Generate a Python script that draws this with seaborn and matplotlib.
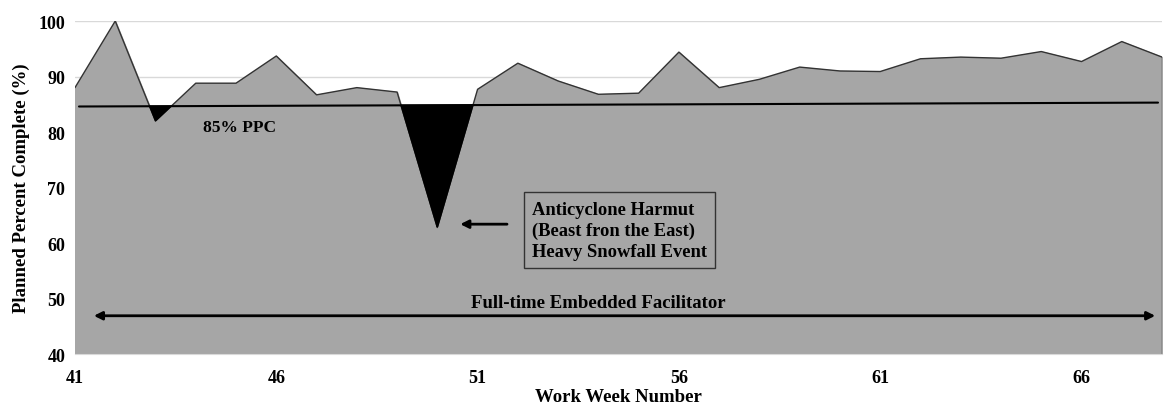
import numpy as np
import pandas as pd
import matplotlib.pyplot as plt
import seaborn as sns

sns.set_style("white")
plt.rcParams["font.family"] = ["Liberation Serif", "DejaVu Serif"]
plt.rcParams["text.color"] = "black"
plt.rcParams["axes.labelcolor"] = "black"
plt.rcParams["xtick.color"] = "black"
plt.rcParams["ytick.color"] = "black"

weeks = list(range(41, 69))
ppc = [88.0, 100.0, 82.0, 88.8, 88.8, 93.7, 86.7, 88.0, 87.2, 62.8,
       87.7, 92.4, 89.2, 86.8, 87.0, 94.4, 88.0, 89.5, 91.7, 91.0,
       90.9, 93.2, 93.5, 93.3, 94.5, 92.7, 96.3, 93.5]
target_weeks = [41.1, 67.9]
target_vals = [84.6, 85.3]

df = pd.DataFrame({"week": weeks, "ppc": ppc})
x = np.linspace(41, 68, 2000)
y = np.interp(x, df["week"], df["ppc"])
line = np.interp(x, target_weeks, target_vals)

fig = plt.figure(figsize=(11.66, 4.10), dpi=100)
ax = fig.add_axes([0.0643, 0.134, 0.9323, 0.8123])

ax.fill_between(df["week"], 40, df["ppc"], color="#a6a6a6", zorder=2)
sns.lineplot(data=df, x="week", y="ppc", color="#333333", linewidth=1.0, ax=ax, zorder=3)
ax.plot([68, 68], [40, ppc[-1]], color="#333333", linewidth=1.0, zorder=3)
ax.fill_between(x, y, line, where=y < line, interpolate=True, color="black", zorder=3)
ax.plot(target_weeks, target_vals, color="black", linewidth=1.5, zorder=4)

ax.set_xlim(41, 68)
ax.set_ylim(40, 100)
ax.set_xticks([41, 46, 51, 56, 61, 66])
ax.set_yticks(range(40, 101, 10))
ax.yaxis.grid(True, color="#d9d9d9", linewidth=1, zorder=0)
ax.set_axisbelow(True)
for s in ["top", "right", "left"]:
    ax.spines[s].set_visible(False)
ax.spines["bottom"].set_color("#d9d9d9")
ax.tick_params(axis="x", length=0, labelsize=13, pad=11)
ax.tick_params(axis="y", length=0, labelsize=13, pad=7)
for lab in ax.get_xticklabels() + ax.get_yticklabels():
    lab.set_fontweight("bold")

ax.set_xlabel("Work Week Number", fontsize=13.5, fontweight="bold", labelpad=1)
ax.set_ylabel("Planned Percent Complete (%)", fontsize=13.5, fontweight="bold", labelpad=6)

ax.text(45.1, 80.9, "85% PPC", fontsize=12.5, fontweight="bold", ha="center", va="center", zorder=5)

ax.annotate("", xy=(41.4, 46.9), xytext=(67.9, 46.9),
            arrowprops=dict(arrowstyle="<|-|>", color="black", lw=2, mutation_scale=12), zorder=5)
ax.text(54.0, 49.2, "Full-time Embedded Facilitator", fontsize=13.5, fontweight="bold",
        ha="center", va="center", zorder=5)

ax.annotate("", xy=(50.5, 63.4), xytext=(51.8, 63.4),
            arrowprops=dict(arrowstyle="-|>", color="black", lw=2, mutation_scale=12), zorder=5)
ax.text(52.35, 62.3, "Anticyclone Harmut\n(Beast fron the East)\nHeavy Snowfall Event",
        fontsize=13.3, fontweight="bold", ha="left", va="center", linespacing=1.3, zorder=5,
        bbox=dict(boxstyle="square,pad=0.45", facecolor="#a6a6a6", edgecolor="#333333", linewidth=1))

fig.savefig("out.png", dpi=100)
